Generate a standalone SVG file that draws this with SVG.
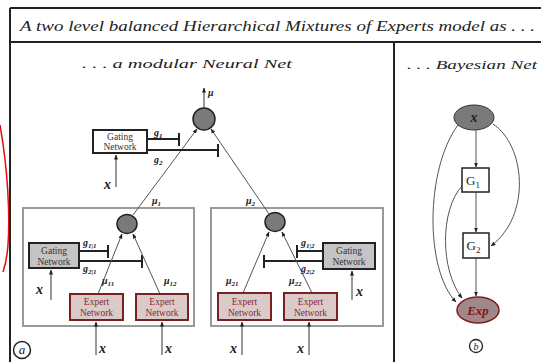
<svg xmlns="http://www.w3.org/2000/svg" width="541" height="362" viewBox="0 0 541 362">
<defs>
<marker id="ah" viewBox="0 0 10 10" refX="9" refY="5" markerWidth="5" markerHeight="5" orient="auto"><path d="M0,1 L10,5 L0,9 z" fill="#222"/></marker>
</defs>
<style>
.hand{font-family:"Liberation Serif",serif;font-style:italic;fill:#222}
.box{fill:#fff;stroke:#222;stroke-width:2}
.gbox{fill:#c4c4c4;stroke:#222;stroke-width:2}
.ebox{fill:#dacaca;stroke:#7a2020;stroke-width:2}
.lbl{font-family:"Liberation Serif",serif;font-size:9.5px;fill:#333;text-anchor:middle}
.elbl{font-family:"Liberation Serif",serif;font-size:9.5px;fill:#8a2a2a;text-anchor:middle}
.mod{fill:none;stroke:#9a9a9a;stroke-width:2}
.node{fill:#7a7a7a;stroke:#222;stroke-width:1.5}
.ln{stroke:#555;stroke-width:1;fill:none}
.inp{stroke:#333;stroke-width:1;fill:none}
.bar{stroke:#222;stroke-width:2;fill:none}
.sym{font-family:"Liberation Serif",serif;font-weight:bold;font-style:italic;fill:#222}
.sm{font-size:10px}
.x{font-size:14px}
.frame{stroke:#222;stroke-width:2;fill:none}
</style>
<rect width="541" height="362" fill="#fff"/>
<path d="M0,125 C8,170 10,215 8,245 C7,258 5,266 3,272" fill="none" stroke="#e01010" stroke-width="1.5"/>
<g id="frame">
<line class="frame" x1="10" y1="8" x2="10" y2="362"/>
<line class="frame" x1="10" y1="8" x2="541" y2="8"/>
<line class="frame" x1="10" y1="42" x2="541" y2="42"/>
<line class="frame" x1="394" y1="42" x2="394" y2="362"/>
</g>
<text class="hand" x="20" y="31" font-size="14" textLength="515" lengthAdjust="spacingAndGlyphs">A two level balanced Hierarchical Mixtures of Experts model as . . .</text>
<text class="hand" x="82" y="68" font-size="12" textLength="210" lengthAdjust="spacingAndGlyphs">. . . a modular Neural Net</text>
<text class="hand" x="407" y="69" font-size="12" textLength="130" lengthAdjust="spacingAndGlyphs">. . . Bayesian Net</text>

<g id="modules">
<rect id="module1" class="mod" x="23" y="208" width="171" height="118"/>
<rect id="module2" class="mod" x="211" y="208" width="172" height="118"/>
</g>

<g id="connectors">
<line class="inp" x1="204" y1="108" x2="204" y2="88" marker-end="url(#ah)"/>
<line class="ln" x1="133" y1="215" x2="197" y2="129" marker-end="url(#ah)"/>
<line class="ln" x1="269" y1="214" x2="211" y2="129" marker-end="url(#ah)"/>
<line class="bar" x1="147" y1="139" x2="179" y2="139"/><line class="bar" x1="179" y1="133" x2="179" y2="146"/>
<line class="bar" x1="147" y1="150" x2="218" y2="150"/><line class="bar" x1="218" y1="144" x2="218" y2="157"/>
<line class="inp" x1="116" y1="187" x2="116" y2="155" marker-end="url(#ah)"/>
<line class="bar" x1="79" y1="251" x2="108" y2="251"/><line class="bar" x1="108" y1="245" x2="108" y2="258"/>
<line class="bar" x1="79" y1="261" x2="142" y2="261"/><line class="bar" x1="142" y1="255" x2="142" y2="268"/>
<line class="inp" x1="51" y1="300" x2="51" y2="270" marker-end="url(#ah)"/>
<line class="ln" x1="98" y1="294" x2="122" y2="234" marker-end="url(#ah)"/>
<line class="ln" x1="160" y1="294" x2="133" y2="234" marker-end="url(#ah)"/>
<line class="inp" x1="96" y1="355" x2="96" y2="322" marker-end="url(#ah)"/>
<line class="inp" x1="162" y1="355" x2="162" y2="322" marker-end="url(#ah)"/>
<line class="bar" x1="323" y1="251" x2="297" y2="251"/><line class="bar" x1="297" y1="245" x2="297" y2="258"/>
<line class="bar" x1="323" y1="261" x2="264" y2="261"/><line class="bar" x1="264" y1="255" x2="264" y2="268"/>
<line class="inp" x1="352" y1="300" x2="352" y2="271" marker-end="url(#ah)"/>
<line class="ln" x1="243" y1="293" x2="269" y2="232" marker-end="url(#ah)"/>
<line class="ln" x1="312" y1="293" x2="282" y2="232" marker-end="url(#ah)"/>
<line class="inp" x1="242" y1="355" x2="242" y2="322" marker-end="url(#ah)"/>
<line class="inp" x1="309" y1="355" x2="309" y2="322" marker-end="url(#ah)"/>
<line class="ln" x1="476" y1="130" x2="476" y2="167" marker-end="url(#ah)"/>
<line class="ln" x1="476" y1="192" x2="476" y2="232" marker-end="url(#ah)"/>
<line class="ln" x1="476" y1="258" x2="476" y2="296" marker-end="url(#ah)"/>
<path class="ln" d="M493,124 C525,145 532,215 491,246" marker-end="url(#ah)"/>
<path class="ln" d="M458,125 C425,170 425,270 456,302" marker-end="url(#ah)"/>
<path class="ln" d="M462,186 C440,210 440,270 462,298" marker-end="url(#ah)"/>
</g>

<g id="labels">
<text class="sym sm" x="208" y="96">μ</text>
<text class="sym sm" x="154" y="136">g<tspan font-size="7" dy="2">1</tspan></text>
<text class="sym sm" x="154" y="163">g<tspan font-size="7" dy="2">2</tspan></text>
<text class="sym x" x="104" y="189">x</text>
<text class="sym sm" x="152" y="204">μ<tspan font-size="7" dy="2">1</tspan></text>
<text class="sym sm" x="246" y="204">μ<tspan font-size="7" dy="2">2</tspan></text>
<text class="sym sm" x="83" y="246">g<tspan font-size="7" dy="2">1|1</tspan></text>
<text class="sym sm" x="83" y="272">g<tspan font-size="7" dy="2">2|1</tspan></text>
<text class="sym x" x="36" y="294">x</text>
<text class="sym sm" x="102" y="284">μ<tspan font-size="7" dy="2">11</tspan></text>
<text class="sym sm" x="164" y="284">μ<tspan font-size="7" dy="2">12</tspan></text>
<text class="sym x" x="99" y="353">x</text>
<text class="sym x" x="165" y="353">x</text>
<text class="sym sm" x="301" y="246">g<tspan font-size="7" dy="2">1|2</tspan></text>
<text class="sym sm" x="301" y="272">g<tspan font-size="7" dy="2">2|2</tspan></text>
<text class="sym x" x="356" y="296">x</text>
<text class="sym sm" x="226" y="284">μ<tspan font-size="7" dy="2">21</tspan></text>
<text class="sym sm" x="289" y="284">μ<tspan font-size="7" dy="2">22</tspan></text>
<text class="sym x" x="230" y="353">x</text>
<text class="sym x" x="297" y="353">x</text>
</g>

<g id="gate-top"><rect class="box" x="93" y="130" width="54" height="23"/><text class="lbl" x="120" y="140">Gating</text><text class="lbl" x="120" y="150">Network</text></g>
<g id="node-top"><ellipse class="node" cx="204" cy="119" rx="11" ry="11"/></g>
<g id="node-1"><ellipse class="node" cx="127" cy="224" rx="10" ry="9.5"/></g>
<g id="node-2"><ellipse class="node" cx="275" cy="222" rx="10" ry="9.5"/></g>
<g id="gate-1"><rect class="gbox" x="29" y="243" width="50" height="25"/><text class="lbl" x="54" y="254">Gating</text><text class="lbl" x="54" y="264.5">Network</text></g>
<g id="gate-2"><rect class="gbox" x="323" y="243" width="52" height="26"/><text class="lbl" x="349" y="254">Gating</text><text class="lbl" x="349" y="265">Network</text></g>
<g id="expert-11"><rect class="ebox" x="70" y="294" width="53" height="26"/><text class="elbl" x="96.5" y="305">Expert</text><text class="elbl" x="96.5" y="316">Network</text></g>
<g id="expert-12"><rect class="ebox" x="136" y="294" width="52" height="26"/><text class="elbl" x="162" y="305">Expert</text><text class="elbl" x="162" y="316">Network</text></g>
<g id="expert-21"><rect class="ebox" x="218" y="293" width="53" height="27"/><text class="elbl" x="244.5" y="305">Expert</text><text class="elbl" x="244.5" y="316">Network</text></g>
<g id="expert-22"><rect class="ebox" x="284" y="293" width="53" height="27"/><text class="elbl" x="310.5" y="305">Expert</text><text class="elbl" x="310.5" y="316">Network</text></g>

<g id="tag-a"><circle cx="22" cy="350" r="8.5" fill="none" stroke="#222" stroke-width="1.5"/><text class="hand" x="22" y="354" font-size="13" text-anchor="middle">a</text></g>
<g id="tag-b"><circle cx="476" cy="346" r="6.5" fill="none" stroke="#222" stroke-width="1.3"/><text class="hand" x="476" y="349.5" font-size="10" text-anchor="middle">b</text></g>

<g id="bn-x"><ellipse cx="474" cy="117.5" rx="20" ry="12.5" fill="#7a7a7a" stroke="#333" stroke-width="1"/><text class="sym" x="474" y="122" font-size="14" text-anchor="middle">x</text></g>
<g id="bn-g1"><rect x="462" y="168" width="27" height="24" fill="#fff" stroke="#222" stroke-width="1.5"/><text x="473" y="185" font-family="Liberation Serif,serif" font-size="13" fill="#222" text-anchor="middle">G<tspan font-size="9" dy="3">1</tspan></text></g>
<g id="bn-g2"><rect x="463" y="233" width="26" height="25" fill="#fff" stroke="#222" stroke-width="1.5"/><text x="473.5" y="250" font-family="Liberation Serif,serif" font-size="13" fill="#222" text-anchor="middle">G<tspan font-size="9" dy="3">2</tspan></text></g>
<g id="bn-exp"><ellipse cx="478" cy="310" rx="21" ry="13" fill="#a08888" stroke="#7a2020" stroke-width="1.5"/><text x="478" y="315" font-family="Liberation Serif,serif" font-style="italic" font-weight="bold" font-size="13" fill="#8a1010" text-anchor="middle">Exp</text></g>
</svg>
